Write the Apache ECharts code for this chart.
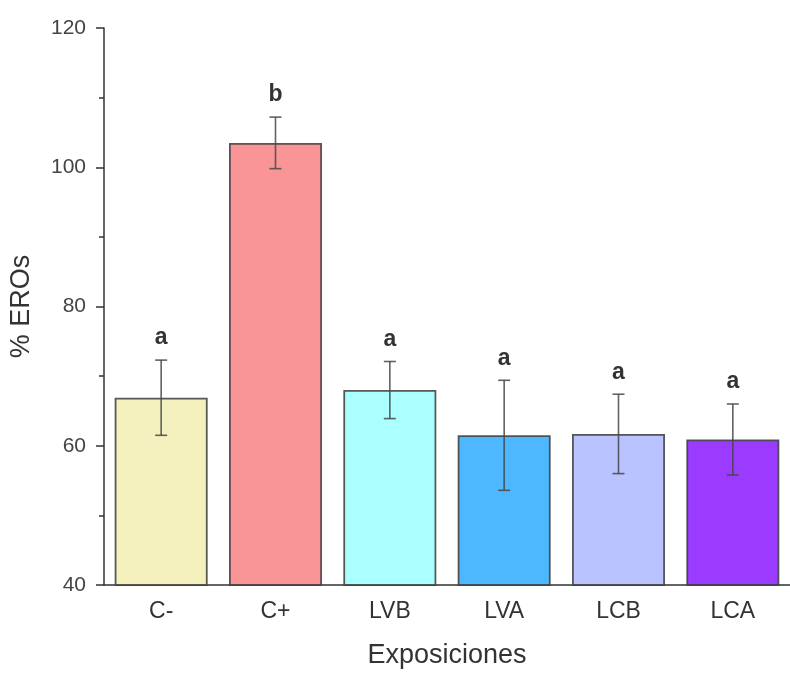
<!DOCTYPE html>
<html>
<head>
<meta charset="utf-8">
<script src="https://cdn.jsdelivr.net/npm/echarts@6/dist/echarts.min.js"></script>
<style>html,body{margin:0;padding:0;background:#fff;}#c{width:790px;height:674px;}</style>
</head>
<body>
<div id="c"></div>
<script>
const categories = ['C-', 'C+', 'LVB', 'LVA', 'LCB', 'LCA'];
const means = [66.9, 103.5, 68.0, 61.5, 61.7, 60.9];
const errors = [5.4, 3.7, 4.1, 7.9, 5.7, 5.1];
const letters = ['a', 'b', 'a', 'a', 'a', 'a'];
const barColors = ['#F4F1BE', '#F99597', '#AAFFFF', '#4DB8FF', '#B8C3FF', '#9A3BFF'];
const yMin = 40, yMax = 120, yStep = 20;

const FONT = "'Liberation Sans', Arial, sans-serif";
const chart = echarts.init(document.getElementById('c'), null, {renderer: 'canvas'});
chart.setOption({
  backgroundColor: '#fff',
  animation: false,
  grid: {left: 102, right: -6, top: 28, bottom: 85},
  xAxis: [{
    type: 'category',
    data: categories,
    name: 'Exposiciones',
    nameLocation: 'middle',
    nameGap: 57,
    nameTextStyle: {fontFamily: FONT, fontSize: 27, color: '#333'},
    axisLine: {lineStyle: {color: '#333', width: 1.5}},
    axisTick: {alignWithLabel: true, length: 4, lineStyle: {color: '#333', width: 1.5}},
    axisLabel: {fontFamily: FONT, fontSize: 23, color: '#333', margin: 15}
  }, {
    type: 'category',
    data: categories,
    position: 'bottom',
    axisLine: {show: false},
    axisTick: {alignWithLabel: false, length: 4, lineStyle: {color: '#333', width: 1.5}},
    axisLabel: {show: false}
  }],
  yAxis: {
    type: 'value',
    min: yMin, max: yMax, interval: yStep,
    name: '% EROs',
    nameLocation: 'middle',
    nameGap: 69,
    nameTextStyle: {fontFamily: FONT, fontSize: 27, color: '#333'},
    axisLine: {show: true, lineStyle: {color: '#333', width: 1.5}},
    axisTick: {show: true, length: 8, lineStyle: {color: '#333', width: 1.5}},
    minorTick: {show: true, splitNumber: 2, length: 5, lineStyle: {color: '#333', width: 1.5}},
    splitLine: {show: false},
    axisLabel: {fontFamily: FONT, fontSize: 21, color: '#444', margin: 18}
  },
  series: [{
    type: 'bar',
    barWidth: 93,
    data: means.map((v, i) => ({value: v, itemStyle: {color: barColors[i]}})),
    itemStyle: {borderColor: 'rgba(60,60,60,0.85)', borderWidth: 1.8},
    z: 2
  }, {
    type: 'custom',
    z: 5,
    data: categories.map((c, i) => [i, means[i] - errors[i], means[i] + errors[i]]),
    renderItem: function (params, api) {
      const lo = api.coord([api.value(0), api.value(1)]);
      const hi = api.coord([api.value(0), api.value(2)]);
      const x = lo[0];
      const cap = 6;
      const st = {stroke: 'rgba(70,70,70,0.85)', lineWidth: 1.6};
      return {
        type: 'group',
        children: [
          {type: 'line', shape: {x1: x, y1: lo[1], x2: x, y2: hi[1]}, style: st},
          {type: 'line', shape: {x1: x - cap, y1: lo[1], x2: x + cap, y2: lo[1]}, style: st},
          {type: 'line', shape: {x1: x - cap, y1: hi[1], x2: x + cap, y2: hi[1]}, style: st},
          {type: 'text', x: x, y: hi[1] - 22, style: {
            text: letters[params.dataIndex], fill: '#333', font: 'bold 23px ' + FONT,
            align: 'center', verticalAlign: 'middle'
          }}
        ]
      };
    }
  }]
});
</script>
</body>
</html>
